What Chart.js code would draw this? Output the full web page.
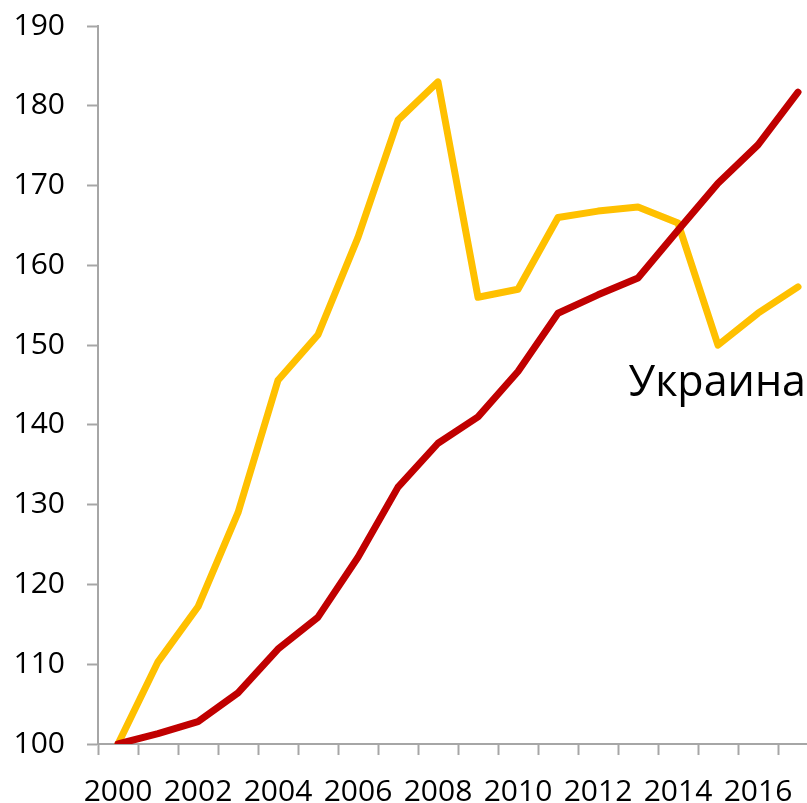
<!DOCTYPE html>
<html>
<head>
<meta charset="utf-8">
<script src="https://cdn.jsdelivr.net/npm/chart.js@4.4.1/dist/chart.umd.min.js"></script>
<style>
    html, body { margin: 0; padding: 0; background: #fff; overflow: hidden; }
    #wrap { width: 820px; height: 803px; }
</style>
</head>
<body>
<div id="wrap"><canvas id="grafico" width="820" height="803"></canvas></div>
<script>
const anos = ['2000', '2001', '2002', '2003', '2004', '2005', '2006', '2007', '2008',
    '2009', '2010', '2011', '2012', '2013', '2014', '2015', '2016', '2017'];

// linha vermelha
const serieVermelha = [100, 101.3, 102.8, 106.4, 111.9, 115.9, 123.4, 132.2, 137.7,
    141.0, 146.7, 154.0, 156.3, 158.4, 164.4, 170.3, 175.1, 181.7];

// linha amarela
const serieAmarela = [100, 110.3, 117.2, 129.0, 145.6, 151.3, 163.5, 178.2, 183.0,
    156.0, 157.0, 166.0, 166.8, 167.3, 165.3, 150.0, 154.0, 157.3];

const yMin = 100;
const yMax = 190;
const yPasso = 10;

const rotulo = { texto: 'Украина', indice: 17, valor: 143.6 };

const corEixo = '#A6A6A6';
const fonte = "'Open Sans', 'Noto Sans', sans-serif";

const rotuloPlugin = {
    id: 'rotuloPlugin',
    afterDatasetsDraw(chart) {
        const { ctx, scales } = chart;
        const x = scales.x.getPixelForValue(rotulo.indice) + 8;
        const y = scales.y.getPixelForValue(rotulo.valor);
        ctx.save();
        ctx.font = `43px ${fonte}`;
        ctx.fillStyle = '#000';
        ctx.textAlign = 'right';
        ctx.textBaseline = 'alphabetic';
        ctx.fillText(rotulo.texto, x, y);
        ctx.restore();
    }
};

new Chart(document.getElementById('grafico').getContext('2d'), {
    type: 'line',
    data: {
        labels: anos,
        datasets: [
            {
                data: serieVermelha,
                borderColor: '#C00000',
                borderWidth: 7,
                pointRadius: 0,
                tension: 0,
                borderJoinStyle: 'round',
                borderCapStyle: 'round'
            },
            {
                data: serieAmarela,
                borderColor: '#FFC000',
                borderWidth: 7,
                pointRadius: 0,
                tension: 0,
                borderJoinStyle: 'round',
                borderCapStyle: 'round'
            }
        ]
    },
    options: {
        responsive: false,
        animation: false,
        layout: { padding: { top: 26, right: 2, left: 0, bottom: 0 } },
        plugins: {
            legend: { display: false },
            tooltip: { enabled: false }
        },
        scales: {
            x: {
                offset: true,
                afterFit: (s) => {
                    s.height = 59;
                    s.paddingLeft = 0;
                    s.paddingRight = 0;
                },
                grid: {
                    offset: true,
                    drawOnChartArea: false,
                    drawTicks: true,
                    tickLength: 11,
                    tickWidth: 2,
                    color: corEixo
                },
                border: { display: true, color: corEixo, width: 2 },
                ticks: {
                    autoSkip: false,
                    maxRotation: 0,
                    padding: 19,
                    color: '#000',
                    font: { family: fonte, size: 30 },
                    callback: function (value, index) {
                        return index % 2 === 0 ? anos[index] : '';
                    }
                }
            },
            y: {
                min: yMin,
                max: yMax,
                afterFit: (s) => {
                    s.width = 98;
                    s.paddingTop = 0;
                    s.paddingBottom = 0;
                },
                grid: {
                    drawOnChartArea: false,
                    drawTicks: true,
                    tickLength: 11,
                    tickWidth: 2,
                    color: corEixo
                },
                border: { display: true, color: corEixo, width: 2 },
                ticks: {
                    stepSize: yPasso,
                    padding: 22,
                    color: '#000',
                    font: { family: fonte, size: 30 }
                }
            }
        }
    },
    plugins: [rotuloPlugin]
});
</script>
</body>
</html>
